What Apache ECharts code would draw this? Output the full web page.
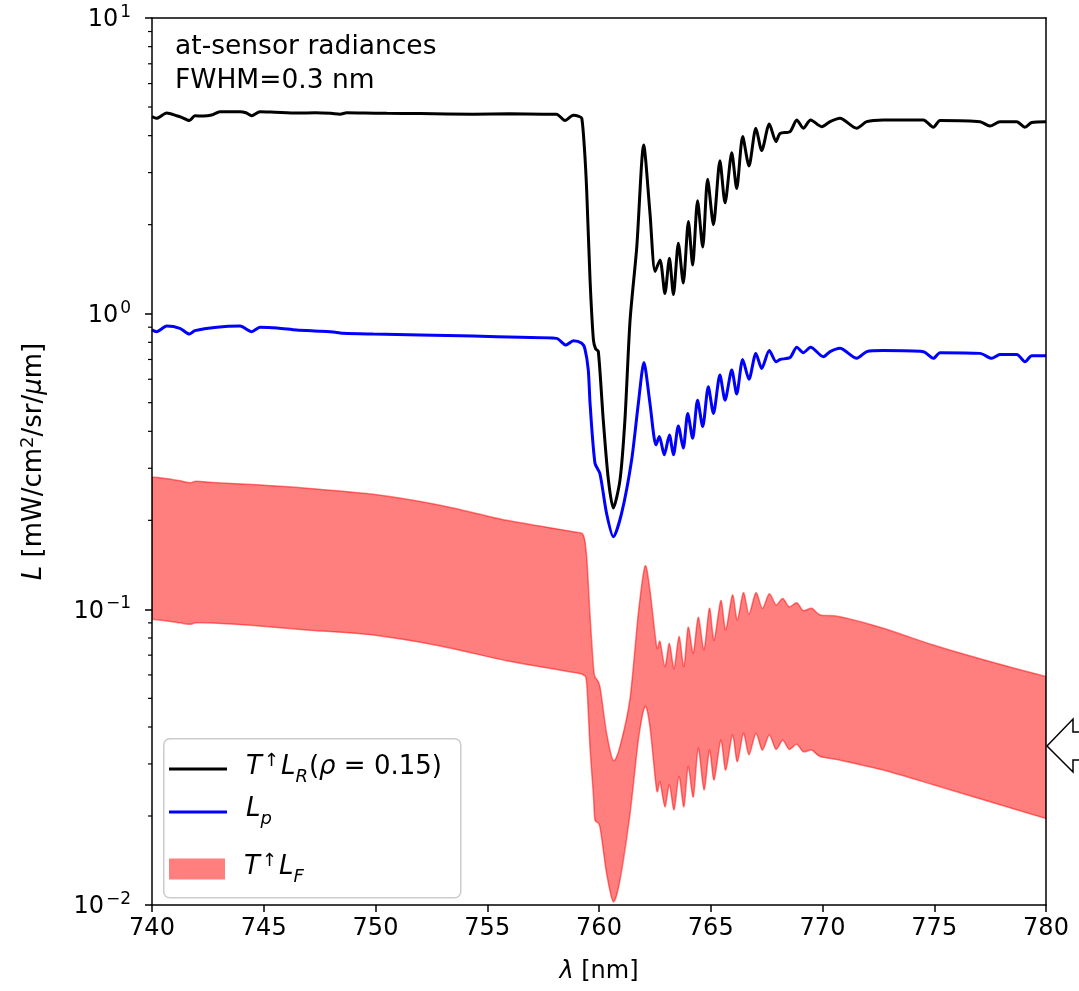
<!DOCTYPE html>
<html><head><meta charset="utf-8">
<script src="https://cdn.jsdelivr.net/npm/echarts@6/dist/echarts.min.js"></script>
<style>html,body{margin:0;padding:0;background:#fff}#c{width:1079px;height:991px}</style>
</head><body><div id="c"></div>
<script>
// ---------- data ----------
const blackWl = [740.0,740.2,740.66,741.1,741.3,741.67,741.92,742.3,742.67,743.04,743.94,744.2,744.46,744.83,745.5,746.5,747.3,748.0,748.41,748.71,749.5,750.5,752.0,754.38,756.0,757.5,758.1,758.48,758.85,759.1,759.23,759.35,759.45,759.6,759.75,759.85,759.97,760.19,760.42,760.64,760.94,761.16,761.39,761.69,762.0,762.28,762.51,762.73,762.95,763.15,763.33,763.55,763.77,764.0,764.19,764.41,764.64,764.86,765.12,765.41,765.64,765.94,766.16,766.43,766.71,767.02,767.28,767.62,767.92,768.1,768.55,768.85,769.14,769.47,769.96,770.34,770.78,771.53,771.98,772.72,774.51,774.96,775.26,777.05,777.49,777.94,778.69,779.06,779.36,780.0];
const blackL = [4.64,4.58,4.77,4.67,4.62,4.50,4.67,4.66,4.70,4.82,4.82,4.78,4.67,4.82,4.80,4.77,4.78,4.76,4.73,4.78,4.77,4.76,4.75,4.73,4.74,4.73,4.73,4.50,4.69,4.65,4.58,3.6,2.6,1.30,0.815,0.76,0.745,0.437,0.274,0.22,0.274,0.437,0.95,1.68,3.72,2.19,1.39,1.52,1.17,1.54,1.16,1.73,1.27,2.05,1.46,2.41,1.68,2.85,2.0,3.29,2.37,3.50,2.65,3.97,3.16,4.24,3.56,4.38,3.82,4.07,4.13,4.52,4.24,4.52,4.29,4.46,4.58,4.24,4.46,4.52,4.52,4.27,4.50,4.46,4.31,4.46,4.46,4.27,4.43,4.46];

const blueWl = [740.0,740.2,740.66,741.25,741.67,741.92,742.9,743.94,744.46,744.83,745.6,746.47,747.5,748.2,748.56,749.9,752.0,754.38,756.5,758.1,758.52,758.85,759.23,759.37,759.52,759.6,759.82,760.04,760.34,760.64,761.01,761.46,761.76,762.01,762.28,762.55,762.7,762.92,763.15,763.33,763.55,763.77,763.97,764.19,764.41,764.64,764.89,765.12,765.41,765.64,765.94,766.16,766.43,766.71,767.02,767.28,767.62,767.92,768.1,768.55,768.85,769.14,769.47,770.04,770.34,770.78,771.53,771.98,772.72,774.51,774.96,775.26,777.05,777.57,777.94,778.69,779.06,779.36,780.0];
const blueL = [0.881,0.869,0.908,0.892,0.853,0.876,0.900,0.908,0.869,0.900,0.895,0.881,0.872,0.865,0.858,0.853,0.847,0.840,0.832,0.825,0.783,0.810,0.794,0.760,0.646,0.497,0.312,0.288,0.211,0.176,0.211,0.320,0.497,0.683,0.497,0.360,0.384,0.333,0.389,0.333,0.417,0.351,0.460,0.379,0.510,0.415,0.566,0.460,0.620,0.510,0.645,0.535,0.700,0.600,0.734,0.653,0.750,0.688,0.700,0.711,0.770,0.738,0.770,0.715,0.744,0.764,0.706,0.744,0.750,0.744,0.706,0.738,0.734,0.706,0.728,0.728,0.688,0.720,0.720];

const redWl = [740.0,740.6,741.25,741.7,742.0,742.9,744.68,746.92,749.9,752.89,755.87,758.85,759.3,759.45,759.6,759.75,759.82,760.04,760.34,760.64,760.94,761.39,761.76,762.06,762.28,762.58,762.73,762.95,763.15,763.36,763.58,763.8,763.99,764.22,764.44,764.7,764.94,765.15,765.45,765.67,765.97,766.19,766.46,766.71,767.02,767.31,767.62,767.92,768.22,768.51,768.85,769.14,769.52,769.9,770.78,772.72,774.96,777.2,780.0];
const redUpper = [0.280,0.277,0.272,0.268,0.271,0.268,0.264,0.257,0.245,0.225,0.200,0.183,0.178,0.150,0.095,0.064,0.0592,0.0548,0.0381,0.0308,0.0344,0.050,0.097,0.140,0.116,0.0748,0.0778,0.064,0.0767,0.063,0.081,0.064,0.087,0.071,0.094,0.073,0.1008,0.0787,0.107,0.0852,0.1118,0.092,0.1138,0.0964,0.1138,0.1008,0.113,0.1035,0.1089,0.102,0.1053,0.099,0.1008,0.0957,0.0944,0.0863,0.0757,0.0675,0.0592];
const redLower = [0.0925,0.0915,0.0900,0.0890,0.0900,0.0897,0.0880,0.0852,0.0819,0.0752,0.0670,0.0612,0.0600,0.0562,0.0340,0.0235,0.0194,0.0184,0.0128,0.01026,0.01216,0.0204,0.0361,0.0469,0.0401,0.0245,0.0261,0.0215,0.0255,0.0210,0.0272,0.0215,0.0294,0.0232,0.0339,0.0245,0.0334,0.0265,0.0361,0.0286,0.0376,0.0305,0.0381,0.0322,0.0381,0.0334,0.0376,0.0336,0.0361,0.0336,0.0350,0.0330,0.0334,0.0318,0.0309,0.0286,0.0255,0.0227,0.0196];

const xTicks = [740, 745, 750, 755, 760, 765, 770, 775, 780];
const yDecades = [-2, -1, 0, 1];
const seriesNames = ['T↑L_R(ρ=0.15)', 'L_p', 'T↑L_F'];

// ---------- chart ----------
const F = 'DejaVu Sans';
const FS = 24;
const LFS = 26;
const zip = (a, b) => a.map((x, i) => [x, b[i]]);
const minorTickVals = [];
for (let d = yDecades[0]; d < yDecades[yDecades.length - 1]; d++)
  for (let m = 2; m < 10; m++) minorTickVals.push(m * Math.pow(10, d));

function mathRich(fs) {
  const padB = Math.round(fs * 0.22);
  return {
    i: {fontFamily: F, fontStyle: 'italic', fontSize: fs, color: '#000', verticalAlign: 'bottom', padding: [0, 0, padB, 0]},
    n: {fontFamily: F, fontSize: fs, color: '#000', verticalAlign: 'bottom', padding: [0, 0, padB, 0]},
    u: {fontFamily: F, fontSize: Math.round(fs * 0.7), color: '#000', verticalAlign: 'bottom', padding: [0, 2, Math.round(fs * 0.62), 2]},
    s: {fontFamily: F, fontSize: Math.round(fs * 0.7), color: '#000', verticalAlign: 'bottom', padding: [0, 0, Math.round(fs * 0.62), 0]},
    sb: {fontFamily: F, fontStyle: 'italic', fontSize: Math.round(fs * 0.7), color: '#000', verticalAlign: 'bottom', padding: [0, 1, 0, 0]},
    sp: {fontSize: fs, width: 14, verticalAlign: 'bottom'}
  };
}
const legendLabel = {
  'T↑L_R(ρ=0.15)': '{sp| }{i|T}{u|↑}{i|L}{sb|R}{n|(}{i|ρ}{n| = 0.15)}',
  'L_p': '{sp| }{i|L}{sb|p}',
  'T↑L_F': '{sp| }{i|T}{u|↑}{i|L}{sb|F}'
};

function mkLegend(name, top, icon, w, h, color) {
  return {
    data: [{name: name, icon: icon, itemStyle: {color: color, borderWidth: 0}}],
    left: 169, top: top, padding: 0, itemWidth: w, itemHeight: h,
    selectedMode: false,
    formatter: n => legendLabel[n],
    textStyle: {fontFamily: F, fontSize: LFS, color: '#000', rich: mathRich(LFS)}
  };
}

// Catmull-Rom path through pixel points
function crPath(p, t) {
  let s = '';
  for (let i = 0; i < p.length - 1; i++) {
    const p0 = p[Math.max(i - 1, 0)], p1 = p[i], p2 = p[i + 1], p3 = p[Math.min(i + 2, p.length - 1)];
    const c1 = [p1[0] + (p2[0] - p0[0]) * t / 6, p1[1] + (p2[1] - p0[1]) * t / 6];
    const c2 = [p2[0] - (p3[0] - p1[0]) * t / 6, p2[1] - (p3[1] - p1[1]) * t / 6];
    s += ' C' + c1[0] + ',' + c1[1] + ' ' + c2[0] + ',' + c2[1] + ' ' + p2[0] + ',' + p2[1];
  }
  return s;
}

const option = {
  animation: false,
  backgroundColor: '#fff',
  grid: {left: 152, top: 18, width: 894, height: 887, show: false},
  xAxis: [{
    type: 'value', min: xTicks[0], max: xTicks[xTicks.length - 1], interval: 5, position: 'bottom',
    axisLine: {show: true, onZero: false, lineStyle: {color: '#000', width: 1.5}},
    axisTick: {show: true, length: 7, lineStyle: {color: '#000', width: 1.5}},
    axisLabel: {color: '#000', fontFamily: F, fontSize: FS, margin: 12},
    splitLine: {show: false},
    name: '{i|λ}{n| [nm]}', nameLocation: 'middle', nameGap: 55,
    nameTextStyle: {rich: mathRich(FS)},
    z: 5
  }, {
    type: 'value', min: xTicks[0], max: xTicks[xTicks.length - 1], position: 'top',
    axisLine: {show: true, onZero: false, lineStyle: {color: '#000', width: 1.5}},
    axisTick: {show: false}, axisLabel: {show: false}, splitLine: {show: false}, z: 5
  }],
  yAxis: [{
    type: 'log', logBase: 10, min: Math.pow(10, yDecades[0]), max: Math.pow(10, yDecades[yDecades.length - 1]),
    position: 'left',
    axisLine: {show: true, onZero: false, lineStyle: {color: '#000', width: 1.5}},
    axisTick: {show: true, length: 7, lineStyle: {color: '#000', width: 1.5}},
    axisLabel: {
      margin: 21,
      formatter: v => {
        const e = Math.round(Math.log10(v));
        return '{b|10}{s|' + (e < 0 ? '−' + (-e) : String(e)) + '}';
      },
      rich: {
        b: {fontFamily: F, fontSize: FS, color: '#000', verticalAlign: 'bottom'},
        s: {fontFamily: F, fontSize: 17, color: '#000', verticalAlign: 'bottom', padding: [0, 0, 11, 2]}
      }
    },
    splitLine: {show: false},
    name: '{i|L}{n| [mW/cm}{s|2}{n|/sr/}{i|μ}{n|m]}', nameLocation: 'middle', nameRotate: 90, nameGap: 99,
    nameTextStyle: {rich: mathRich(26)},
    z: 5
  }, {
    type: 'log', logBase: 10, min: Math.pow(10, yDecades[0]), max: Math.pow(10, yDecades[yDecades.length - 1]),
    position: 'right',
    axisLine: {show: true, onZero: false, lineStyle: {color: '#000', width: 1.5}},
    axisTick: {show: false}, axisLabel: {show: false}, splitLine: {show: false}, z: 5
  }],
  legend: [
    mkLegend(seriesNames[0], 752, 'rect', 58, 3, '#000'),
    mkLegend(seriesNames[1], 796, 'rect', 58, 3, '#0000ff'),
    mkLegend(seriesNames[2], 852, 'rect', 56, 21, 'rgba(255,0,0,0.5)')
  ],
  graphic: [
    {type: 'rect', left: 163, top: 738, z: 3, shape: {width: 297, height: 159, r: 6},
     style: {fill: 'rgba(255,255,255,0.8)', stroke: '#cccccc', lineWidth: 1.5}},
    {type: 'text', left: 175, top: 30, z: 6,
     style: {text: 'at-sensor radiances\nFWHM=0.3 nm', fontFamily: F, fontSize: 26.5, lineHeight: 34, fill: '#000'}},
    {type: 'polygon', z: 6,
     shape: {points: [[1047, 746], [1073, 719], [1073, 732], [1082, 732], [1082, 760], [1073, 760], [1073, 772]]},
     style: {fill: '#fff', stroke: '#000', lineWidth: 1.5}}
  ],
  series: [
    {
      name: seriesNames[0], type: 'line', data: zip(blackWl, blackL), symbol: 'none', smooth: 0.25,
      lineStyle: {color: '#000', width: 3}, itemStyle: {color: '#000'}, z: 3
    },
    {
      name: seriesNames[1], type: 'line', data: zip(blueWl, blueL), symbol: 'none', smooth: 0.25,
      lineStyle: {color: '#0000ff', width: 3}, itemStyle: {color: '#0000ff'}, z: 3
    },
    {
      name: seriesNames[2], type: 'custom', clip: true, z: 2, silent: true,
      data: redWl.map((x, i) => [x, redUpper[i], redLower[i]]),
      encode: {x: 0, y: [1, 2]},
      itemStyle: {color: 'rgba(255,0,0,0.5)'},
      renderItem: (params, api) => {
        if (params.dataIndex !== 0) return null;
        const up = redWl.map((x, i) => api.coord([x, redUpper[i]]));
        const lo = redWl.map((x, i) => api.coord([x, redLower[i]])).reverse();
        const d = 'M' + up[0][0] + ',' + up[0][1] + crPath(up, 0.8) +
                  ' L' + lo[0][0] + ',' + lo[0][1] + crPath(lo, 0.8) + ' Z';
        return {type: 'path', shape: {pathData: d},
                style: {fill: 'rgba(255,0,0,0.5)', stroke: 'rgba(255,0,0,0.5)', lineWidth: 1.5}};
      }
    },
    {
      name: '_minorTicks', type: 'custom', data: minorTickVals.map(v => [xTicks[0], v]), silent: true, clip: false, z: 6,
      renderItem: (params, api) => {
        const p = api.coord([api.value(0), api.value(1)]);
        return {type: 'line', shape: {x1: p[0] - 4, y1: p[1], x2: p[0], y2: p[1]}, style: {stroke: '#000', lineWidth: 1.2}};
      }
    }
  ]
};
const chart = echarts.init(document.getElementById('c'));
chart.setOption(option);
</script>
</body></html>
